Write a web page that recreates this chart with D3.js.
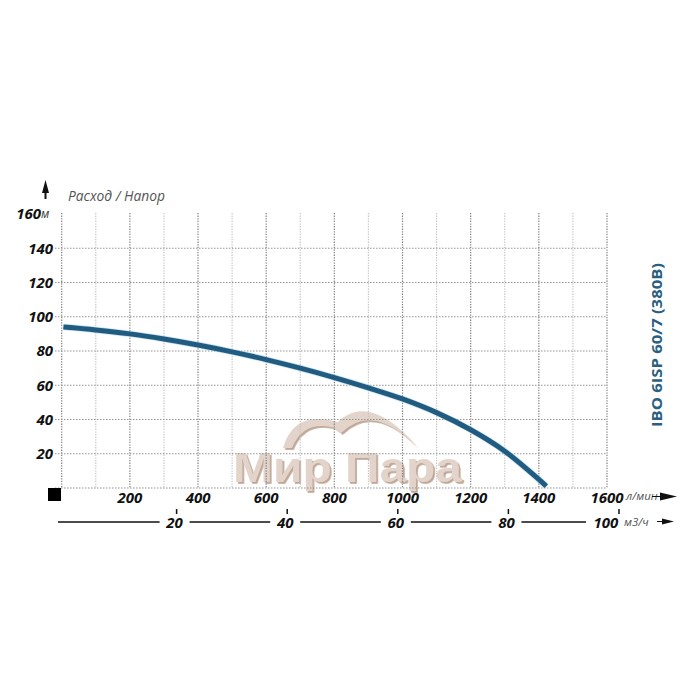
<!DOCTYPE html>
<html><head><meta charset="utf-8">
<script src="https://cdn.jsdelivr.net/npm/d3@7"></script>
<style>body{margin:0;background:#fff}svg{display:block}</style>
</head><body><svg id="c" width="700" height="700"></svg>
<script>
const flowLmin = [5,100,200,300,400,500,600,700,800,900,1000,1100,1200,1300,1400,1422];
const headM    = [94,92.3,90,87,83.5,79.5,75,70,64.5,58.5,52,44,34,21.5,5,1];
const xTicks = [200,400,600,800,1000,1200,1400,1600];
const yTicks = [20,40,60,80,100,120,140,160];
const m3Ticks = [20,40,60,80,100];
const title = "IBO 6ISP 60/7 (380B)";
const yTitle = "Расход / Напор";
const xUnit = "л/мин", m3Unit = "м3/ч", yUnit = "м";
const watermark = "Мир Пара";

const svg = d3.select("#c");
const x = d3.scaleLinear().domain([0,1600]).range([61.7,607]);
const y = d3.scaleLinear().domain([0,160]).range([488,214]);
const x2 = d3.scaleLinear().domain([0,100]).range([66,619]);
const font = "'Open Sans', 'DejaVu Sans', sans-serif";

const defs = svg.append("defs");
defs.append("filter").attr("id","sh").attr("x","-10%").attr("y","-10%").attr("width","130%").attr("height","130%")
  .append("feDropShadow").attr("dx",1.8).attr("dy",1.8).attr("stdDeviation",0.3).attr("flood-color","#b0907b").attr("flood-opacity",1);

// watermark
const wm = svg.append("g").attr("opacity",0.8).attr("filter","url(#sh)");
wm.append("path").attr("d","M283,448 Q294,408 341,423 L339,429 Q304,418 292,448 Z").attr("fill","#dccabd");
wm.append("path").attr("d","M333,427 Q366,388 416,446 Q372,402 341,433 Z").attr("fill","#dccabd");
wm.append("text").attr("x",233).attr("y",482).attr("textLength",229).attr("lengthAdjust","spacingAndGlyphs")
  .attr("font-family","'Liberation Sans', Arial, sans-serif").attr("font-weight","bold").attr("font-size",42)
  .attr("fill","#dccabd").text(watermark);

// grid
const grid = svg.append("g");
const vlines = d3.range(0,1601,100);
grid.selectAll(".v").data(vlines).join("line")
  .attr("x1",d=>x(d)).attr("x2",d=>x(d)).attr("y1",y(160)-1).attr("y2",y(0))
  .attr("stroke",d=>d%200===0?"#808080":"#c4c4c4").attr("stroke-width",1.2)
  .attr("stroke-dasharray","1.3,1.3");
const hlines = [0,20,40,60,80,100,120,140];
grid.selectAll(".h").data(hlines).join("line")
  .attr("x1",55).attr("x2",x(1600)).attr("y1",d=>y(d)).attr("y2",d=>y(d))
  .attr("stroke","#959595").attr("stroke-width",1.1).attr("stroke-dasharray","1.5,1.5");

// curve
const pts = flowLmin.map((f,i)=>[f,headM[i]]);
const line = d3.line().x(d=>x(d[0])).y(d=>y(d[1])).curve(d3.curveCatmullRom.alpha(0.5));
svg.append("path").datum(pts).attr("d",line).attr("fill","none")
  .attr("stroke","#9fd0ec").attr("stroke-width",6.5).attr("stroke-linecap","butt").attr("opacity",0.6);
svg.append("path").datum(pts).attr("d",line).attr("fill","none")
  .attr("stroke","#225b80").attr("stroke-width",5).attr("stroke-linecap","butt");

// y labels
const yl = svg.append("g");
yTicks.forEach(v=>{
  const t = yl.append("text").attr("y",y(v)).attr("dy","0.36em")
    .attr("font-family",font).attr("font-weight",700).attr("font-style","italic").attr("font-size",15)
    .attr("fill","#111").attr("text-anchor","end");
  if(v===160){ t.attr("x",41).text(v);
    yl.append("text").attr("x",41).attr("y",y(v)).attr("dy","0.36em").attr("font-family",font)
      .attr("font-style","italic").attr("font-size",12).attr("fill","#333").text(yUnit);
  } else t.attr("x",53).text(v);
});

// up arrow and y title
svg.append("path").attr("d","M45.5,180 L49,193 L46.5,193 L46.5,199 L44.5,199 L44.5,193 L42,193 Z").attr("fill","#111");
svg.append("text").attr("x",68).attr("y",201).attr("font-family",font).attr("font-style","italic")
  .attr("font-size",14.5).attr("fill","#555").attr("textLength",97).attr("lengthAdjust","spacingAndGlyphs").text(yTitle);

// black square
svg.append("rect").attr("x",48).attr("y",488).attr("width",13).attr("height",13).attr("fill","#000");

// x labels
const xl = svg.append("g");
xTicks.forEach(v=>{
  xl.append("text").attr("x",x(v)).attr("y",503).attr("text-anchor","middle")
    .attr("font-family",font).attr("font-weight",700).attr("font-style","italic").attr("font-size",15)
    .attr("fill","#111").text(v);
});
svg.append("text").attr("x",626).attr("y",500).attr("font-family",font).attr("font-style","italic")
  .attr("font-size",11.5).attr("fill","#555").text(xUnit);
svg.append("line").attr("x1",652).attr("x2",662).attr("y1",496.5).attr("y2",496.5).attr("stroke","#111").attr("stroke-width",1);
svg.append("path").attr("d","M660,492.5 L677,496.5 L660,500.5 Z").attr("fill","#111");

// second axis (m3/h)
const ax2 = svg.append("g");
ax2.append("line").attr("x1",58).attr("x2",592).attr("y1",522).attr("y2",522).attr("stroke","#111").attr("stroke-width",1.5);
m3Ticks.forEach((v,i)=>{
  const last = i===m3Ticks.length-1;
  const lx = last ? x2(v)-13 : x2(v)-2;
  const w = last ? 40 : 30;
  ax2.append("rect").attr("x",lx-w/2).attr("y",515).attr("width",w).attr("height",14).attr("fill","#fff");
  ax2.append("line").attr("x1",x2(v)).attr("x2",x2(v)).attr("y1",509).attr("y2",514).attr("stroke","#111").attr("stroke-width",1.5);
  ax2.append("text").attr("x",lx).attr("y",528).attr("text-anchor","middle")
    .attr("font-family",font).attr("font-weight",700).attr("font-style","italic").attr("font-size",15)
    .attr("fill","#111").text(v);
});
svg.append("text").attr("x",624).attr("y",526).attr("font-family",font).attr("font-style","italic")
  .attr("font-size",11.5).attr("fill","#555").text(m3Unit);
svg.append("line").attr("x1",657).attr("x2",663).attr("y1",521.5).attr("y2",521.5).attr("stroke","#111").attr("stroke-width",1);
svg.append("path").attr("d","M662,518.5 L674,521.5 L662,524.5 Z").attr("fill","#111");

// title
svg.append("text").attr("transform","translate(662,345) rotate(-90)").attr("text-anchor","middle")
  .attr("font-family",font).attr("font-weight",700).attr("font-size",15).attr("fill","#2b5f80")
  .attr("textLength",164).attr("lengthAdjust","spacingAndGlyphs").text(title);
</script></body></html>
